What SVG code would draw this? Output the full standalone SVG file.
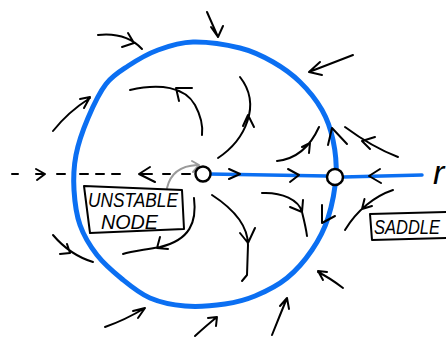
<svg xmlns="http://www.w3.org/2000/svg" width="446" height="338" viewBox="0 0 446 338">
<style>
.orbit{fill:none;stroke:#0b6ff2;stroke-width:5;stroke-linecap:round;stroke-linejoin:round}
.axis{fill:none;stroke:#0b6ff2;stroke-width:3.5;stroke-linecap:round}
.fl{fill:none;stroke:#000;stroke-width:2;stroke-linecap:round;stroke-linejoin:round}
.gray{fill:none;stroke:#9a9a9a;stroke-width:2;stroke-linecap:round;stroke-linejoin:round}
.node{fill:#fff;stroke:#000;stroke-width:2.5}
.box{fill:#fff;stroke:#000;stroke-width:2;stroke-linejoin:round}
.lbl{font-family:"Liberation Sans",Arial,sans-serif;font-style:italic;fill:#000}
</style>
<rect width="446" height="338" fill="#fff"/>
<g id="limit-cycle">
<path class="orbit" d="M193,42 C206.7,41.7 226.7,44.7 240,48 S263,56.3 273,62 S291.8,74 300,82 S316.5,100.3 322,110 S330.7,129.2 333,140 S336.8,162 336,175 S332,205.5 328,218 S318.8,240 312,250 S296.5,270.3 287,278 S265.3,291.7 255,296 S236.7,302.3 225,304 S197.5,307 185,306 S160.5,302.5 150,298 S130.8,286.2 122,279 S104,264 97,255 S83.8,235.8 80,225 S74.7,201.7 74,190 S73.7,167 76,155 S83,129.8 88,118 S99.3,92.7 106,84 S119.3,71.7 128,66 S147.2,54 158,50 S179.3,42.3 193,42 Z"/>
</g>
<g id="connectors">
<path class="axis" d="M209,174 L327,176"/>
<path class="axis" d="M343,177 L422,175"/>
<path class="fl" d="M229,169 L240,174 L229,179"/>
<path class="fl" d="M288,169 L299,175 L290,182"/>
<path class="fl" d="M380,169 L369,176 L381,183"/>
<path class="fl" d="M12,174 H18 M36,174 H44 M57,174 H65 M80,174 H88 M96,174 H104 M112,174 H120 M140,174 H152 M163,174 H170 M182,174 H190"/>
<path class="fl" d="M36,169 L45,174 L37,180"/>
<path class="fl" d="M150,167 L139,174 L155,182"/>
<path class="gray" d="M167,188 C170,175 178,166 197,165"/>
<path class="gray" d="M192,161 L199,165 L193,172"/>
<path class="fl" d="M207,12 L218,37 M211,27 L218,37 L223,26"/>
<path class="fl" d="M98,35 Q126,32 142,49 M128,33 L134,43 L122,47"/>
<path class="fl" d="M353,55 L309,72 M320,62 L309,72 L322,75"/>
<path class="fl" d="M53,131 Q68,112 90,98 M80,99 L90,97 L84,108"/>
<path class="fl" d="M328,145 L332,128 L347,144"/>
<path class="fl" d="M345,127 Q372,147 398,157 M375,137 L362,141 L370,149"/>
<path class="fl" d="M277,161 Q305,158 319,127 M302,147 L310,143 L309,153"/>
<path class="fl" d="M262,193 C282,192 299,200 302,212 S306,228 307,236 M290,207 L302,212 L303,200"/>
<path class="fl" d="M322,205 L322,223 L335,216"/>
<path class="fl" d="M393,190 C375,196 357,210 345,230 M372,206 L362,209 L364.5,199"/>
<path class="fl" d="M343,288 Q330,278 318,272 M327,272 L318,271 L323,280"/>
<path class="fl" d="M272,335 Q280,315 287,298 M280,306 L287,298 L289,309"/>
<path class="fl" d="M195,336 Q207,325 217,317 M208,318 L217,317 L216,326"/>
<path class="fl" d="M105,327 Q125,320 145,308 M133,311 L145,308 L138,318"/>
<path class="fl" d="M53,235 Q70,255 93,262 M67,244 L70,253 L60,254"/>
<path class="fl" d="M194,198 C197,222 190,240 160,247 C145,250 132,251 123,254 M160,237 L157,248 L168,249"/>
<path class="fl" d="M130,90 C160,83 185,87 195,105 C201,116 203,126 202,135 M179,101 L176,88 L192,88"/>
<path class="fl" d="M218,158 C245,140 262,105 240,77 M243,126 L248,115 L254,127"/>
<path class="fl" d="M212,195 C232,208 248,225 248,245 L247,275 L242,281 M240,233 L248,243 L255,228"/>
</g>
<g id="unstable-node">
<circle class="node" cx="203" cy="174" r="7.5"/>
<path class="box" d="M84,186 L182,190 L184,229 L90,233 Z"/>
<text class="lbl" x="88" y="207" font-size="20" textLength="90" lengthAdjust="spacingAndGlyphs">UNSTABLE</text>
<text class="lbl" x="101" y="229" font-size="20" textLength="57" lengthAdjust="spacingAndGlyphs">NODE</text>
</g>
<g id="saddle">
<circle class="node" cx="335" cy="177" r="8"/>
<path class="box" d="M370,214 L450,212 L450,238 L372,240 Z"/>
<text class="lbl" x="374" y="234" font-size="20" textLength="66" lengthAdjust="spacingAndGlyphs">SADDLE</text>
</g>
<g id="axis-label">
<text class="lbl" x="433" y="184" font-size="34" font-style="normal">r</text>
</g>
</svg>
